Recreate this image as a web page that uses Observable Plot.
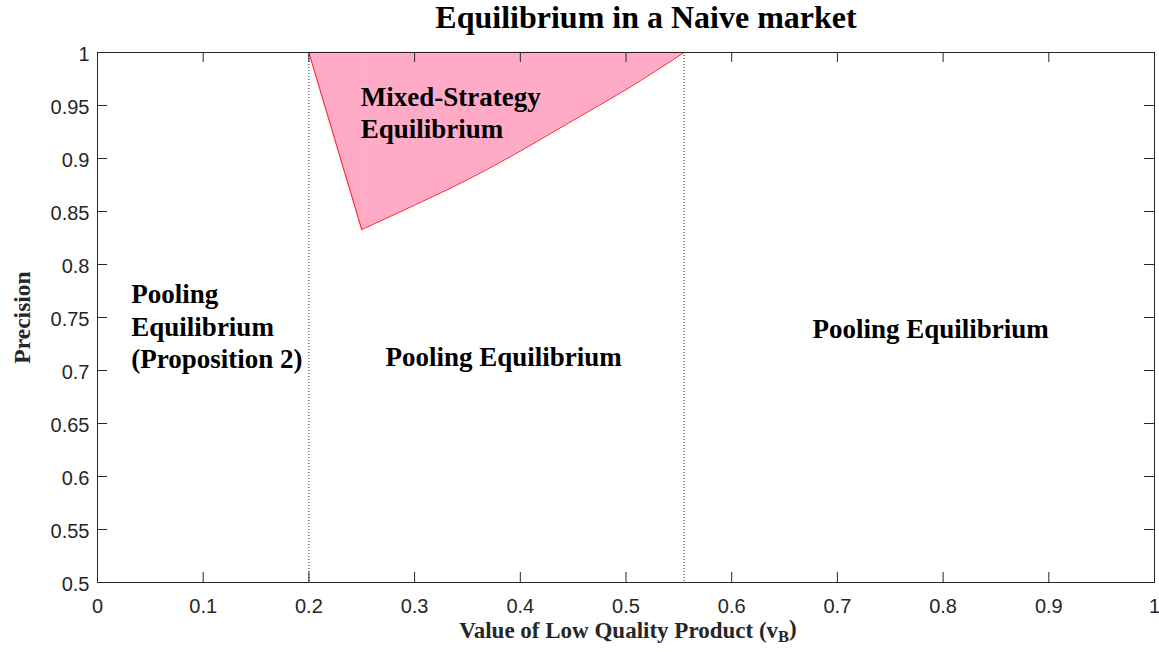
<!DOCTYPE html>
<html><head><meta charset="utf-8">
<script src="https://cdn.jsdelivr.net/npm/d3@7"></script>
<script src="https://cdn.jsdelivr.net/npm/@observablehq/plot@0.6"></script>
<style>body{margin:0;background:#fff}</style>
</head><body><div id="chart"></div>
<script>
const xTicks = [0, 0.1, 0.2, 0.3, 0.4, 0.5, 0.6, 0.7, 0.8, 0.9, 1];
const yTicks = [0.5, 0.55, 0.6, 0.65, 0.7, 0.75, 0.8, 0.85, 0.9, 0.95, 1];
// mixed-strategy region boundary
const edgeV = [0.2, 0.25];            // straight left edge
const edgeP = [1.0, 0.833];
const curveV = [0.25, 0.30, 0.35, 0.40, 0.45, 0.50, 0.555];   // curved lower edge
const curveP = [0.833, 0.856, 0.880, 0.907, 0.936, 0.965, 1.0];
const dividers = [0.2, 0.555];
const regionText = ["Pooling\nEquilibrium\n(Proposition 2)", "Mixed-Strategy\nEquilibrium", "Pooling Equilibrium", "Pooling Equilibrium"];
const regionV = [0.032, 0.249, 0.2725, 0.6764];
const regionP = [0.7019, 0.9189, 0.7047, 0.7311];
const titleText = "Equilibrium in a Naive market";
const xLabelText = "Value of Low Quality Product (v";
const xLabelSub = "B";
const yLabelText = "Precision";

const edge = edgeV.map((v, i) => ({v, p: edgeP[i]}));
const curve = curveV.map((v, i) => ({v, p: curveP[i]}));
const regions = regionText.map((t, i) => ({t, v: regionV[i], p: regionP[i]}));

const W = 1159, H = 652, mt = 52, mr = 5, mb = 70, ml = 97;
const fh = H - mt - mb, fw = W - ml - mr, tk = 10;
const serif = "Liberation Serif, Times New Roman, serif";
const sans = "Liberation Sans, Arial, sans-serif";
const axisColor = "#262626";
const pink = "#ffabc8";
const red = "#ff2020";
const fmt = d => String(+d.toFixed(2));

const chart = Plot.plot({
  width: W, height: H,
  marginTop: mt, marginRight: mr, marginBottom: mb, marginLeft: ml,
  x: {domain: [0, 1], axis: null},
  y: {domain: [0.5, 1], axis: null},
  style: {background: "#fff", overflow: "visible"},
  marks: [
    Plot.areaY(edge, {x: "v", y1: "p", y2: 1, fill: pink, stroke: pink, strokeWidth: 0.6}),
    Plot.areaY(curve, {x: "v", y1: "p", y2: 1, fill: pink, stroke: pink, strokeWidth: 0.6, curve: "monotone-x"}),
    Plot.line(edge, {x: "v", y: "p", stroke: red, strokeWidth: 1}),
    Plot.line(curve, {x: "v", y: "p", stroke: red, strokeWidth: 1, curve: "monotone-x"}),
    Plot.ruleX(dividers, {stroke: "#222", strokeWidth: 1, strokeDasharray: "1,2"}),
    // inward ticks on all four sides
    Plot.ruleX(xTicks, {stroke: axisColor, insetTop: fh - tk}),
    Plot.ruleX(xTicks, {stroke: axisColor, insetBottom: fh - tk}),
    Plot.ruleY(yTicks, {stroke: axisColor, insetRight: fw - tk}),
    Plot.ruleY(yTicks, {stroke: axisColor, insetLeft: fw - tk}),
    Plot.frame({stroke: axisColor, strokeWidth: 1}),
    Plot.axisX(xTicks, {anchor: "bottom", tickSize: 0, tickPadding: 16, tickFormat: fmt, fontSize: 20, fontFamily: sans, fill: axisColor, label: null}),
    Plot.axisY(yTicks, {anchor: "left", tickSize: 0, tickPadding: 8, tickFormat: fmt, fontSize: 20, fontFamily: sans, fill: axisColor, dy: 2.5, label: null}),
    Plot.text(regions, {x: "v", y: "p", text: "t", textAnchor: "start", lineAnchor: "bottom", lineHeight: 1.21, fontSize: 27, fontWeight: "bold", fontFamily: serif, fill: "#000"}),
    Plot.text([titleText], {frameAnchor: "top", dx: 20, dy: -25, lineAnchor: "bottom", fontSize: 32, fontWeight: "bold", fontFamily: serif, fill: "#000"}),
    Plot.text([yLabelText], {frameAnchor: "left", textAnchor: "middle", dx: -75, rotate: -90, fontSize: 23.5, fontWeight: "bold", fontFamily: serif, fill: "#262626"}),
    Plot.text([xLabelText], {frameAnchor: "bottom", dx: 2, dy: 55, lineAnchor: "bottom", fontSize: 23, fontWeight: "bold", fontFamily: serif, fill: "#262626", className: "xlabel"})
  ]
});
document.getElementById("chart").appendChild(chart);

// add subscript to the x label
d3.select(chart).selectAll(".xlabel text").each(function() {
  const t = d3.select(this);
  const base = t.text();
  t.text(null);
  t.append("tspan").text(base);
  t.append("tspan").attr("dy", "0.3em").attr("font-size", "0.72em").text(xLabelSub);
  t.append("tspan").attr("dy", "-0.3em").text(")");
});
</script>
</body></html>
